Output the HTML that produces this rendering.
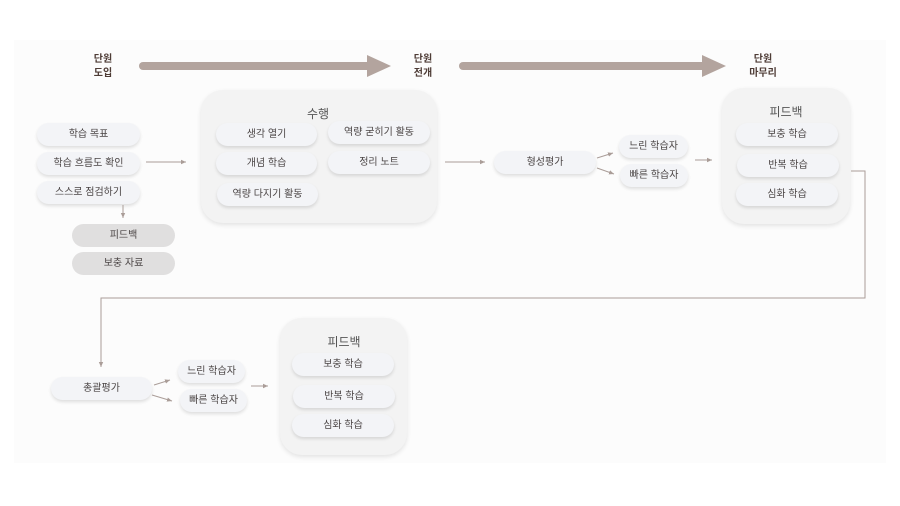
<!DOCTYPE html>
<html><head><meta charset="utf-8"><style>
body{margin:0;width:900px;height:506px;background:#fff;position:relative;overflow:hidden;font-family:"Liberation Sans","Noto Sans CJK KR",sans-serif;}
.panel{position:absolute;left:14px;top:40px;width:872px;height:423px;background:#fcfcfc;}
.p{position:absolute;height:23px;line-height:24px;border-radius:12px;background:#f3f4f7;box-shadow:0 2px 3px rgba(0,0,0,0.12);text-align:center;font-size:10px;color:#4a4444;}
.g{background:#e0dfdf;box-shadow:none;}
.box{position:absolute;background:#f3f3f3;border-radius:22px;box-shadow:0 2px 5px rgba(0,0,0,0.1);}
.t{position:absolute;text-align:center;font-size:12px;color:#555;}
.h{position:absolute;text-align:center;font-size:10px;font-weight:bold;color:#4e3c36;line-height:14px;width:60px;}
svg{position:absolute;left:0;top:0;}
</style></head><body>
<div class="panel"></div>
<div class="h" style="left:73px;top:53px">단원<br>도입</div>
<div class="h" style="left:393px;top:53px">단원<br>전개</div>
<div class="h" style="left:733px;top:53px">단원<br>마무리</div>

<div class="p" style="left:37px;top:123px;width:103px">학습 목표</div>
<div class="p" style="left:37px;top:152px;width:103px">학습 흐름도 확인</div>
<div class="p" style="left:37px;top:181px;width:103px">스스로 점검하기</div>
<div class="p g" style="left:72px;top:224px;width:103px">피드백</div>
<div class="p g" style="left:72px;top:252px;width:103px">보충 자료</div>

<div class="box" style="left:201px;top:90px;width:236px;height:133px"></div>
<div class="t" style="left:288px;top:105px;width:60px">수행</div>
<div class="p" style="left:216px;top:123px;width:101px">생각 열기</div>
<div class="p" style="left:328px;top:121px;width:102px">역량 굳히기 활동</div>
<div class="p" style="left:216px;top:152px;width:101px">개념 학습</div>
<div class="p" style="left:328px;top:151px;width:102px">정리 노트</div>
<div class="p" style="left:217px;top:183px;width:101px">역량 다지기 활동</div>

<div class="p" style="left:494px;top:151px;width:102px">형성평가</div>
<div class="p" style="left:619px;top:135px;width:69px">느린 학습자</div>
<div class="p" style="left:620px;top:164px;width:68px">빠른 학습자</div>

<div class="box" style="left:722px;top:88px;width:128px;height:136px"></div>
<div class="t" style="left:756px;top:103px;width:60px">피드백</div>
<div class="p" style="left:736px;top:123px;width:102px">보충 학습</div>
<div class="p" style="left:737px;top:154px;width:102px">반복 학습</div>
<div class="p" style="left:736px;top:183px;width:102px">심화 학습</div>

<div class="p" style="left:51px;top:377px;width:101px">총괄평가</div>
<div class="p" style="left:178px;top:360px;width:67px">느린 학습자</div>
<div class="p" style="left:180px;top:389px;width:67px">빠른 학습자</div>

<div class="box" style="left:280px;top:318px;width:127px;height:137px"></div>
<div class="t" style="left:314px;top:333px;width:60px">피드백</div>
<div class="p" style="left:292px;top:353px;width:102px">보충 학습</div>
<div class="p" style="left:293px;top:385px;width:102px">반복 학습</div>
<div class="p" style="left:292px;top:414px;width:102px">심화 학습</div>

<svg width="900" height="506">
<defs><marker id="a" markerWidth="6" markerHeight="6" refX="5" refY="3" orient="auto"><path d="M0,0.8 L5,3 L0,5.2z" fill="#aa9d98"/></marker></defs>
<line x1="143" y1="66" x2="372" y2="66" stroke="#b3a49e" stroke-width="8" stroke-linecap="round"/>
<path d="M367,55 L391,66 L367,77z" fill="#b3a49e"/>
<line x1="463" y1="66" x2="707" y2="66" stroke="#b3a49e" stroke-width="8" stroke-linecap="round"/>
<path d="M702,55 L726,66 L702,77z" fill="#b3a49e"/>
<g stroke="#aa9d98" stroke-width="1" fill="none" marker-end="url(#a)">
<line x1="146" y1="162" x2="186" y2="162"/>
<line x1="123" y1="205" x2="123" y2="218"/>
<line x1="445" y1="162" x2="485" y2="162"/>
<line x1="597" y1="158" x2="613" y2="153"/>
<line x1="597" y1="168" x2="614" y2="174"/>
<line x1="695" y1="160" x2="712" y2="160"/>
<polyline points="851,171 865,171 865,298 101,298 101,367"/>
<line x1="154" y1="385" x2="170" y2="380"/>
<line x1="152" y1="395" x2="172" y2="401"/>
<line x1="251" y1="386" x2="268" y2="386"/>
</g>
</svg>
</body></html>
